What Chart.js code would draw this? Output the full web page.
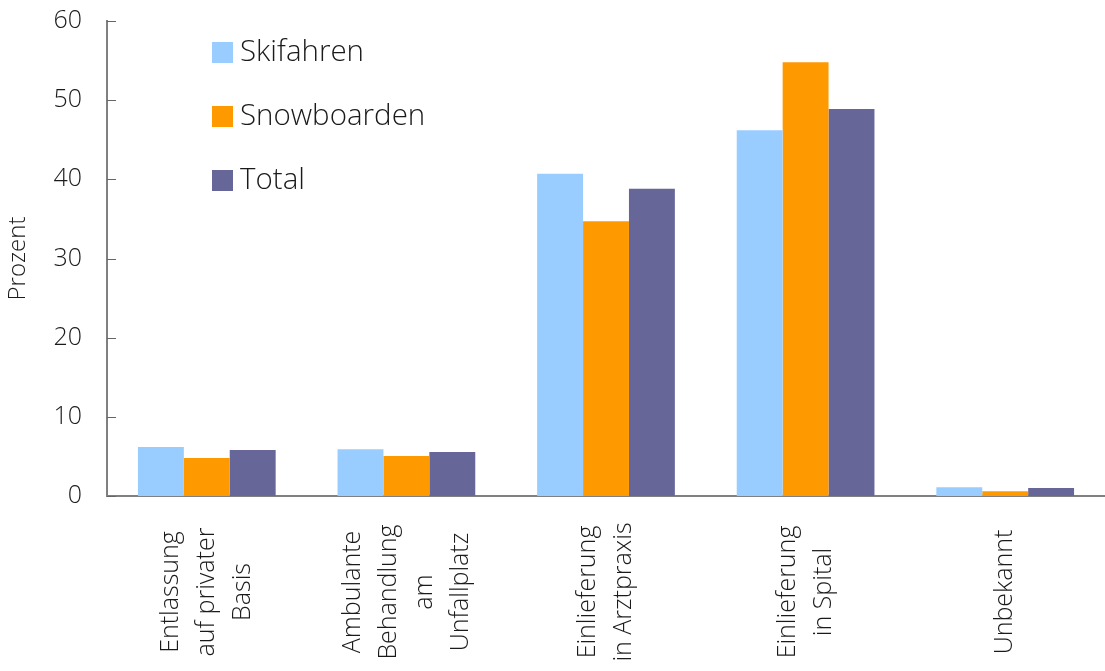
<!DOCTYPE html>
<html>
<head>
<meta charset="utf-8">
<script src="https://cdn.jsdelivr.net/npm/chart.js@4"></script>
<style>
  html, body { margin: 0; padding: 0; background: #fff; }
  #wrap { width: 1105px; height: 671px; }
</style>
</head>
<body>
<div id="wrap"><canvas id="chart"></canvas></div>
<script>
'use strict'
const categories = [
  ['Entlassung', 'auf privater', 'Basis'],
  ['Ambulante', 'Behandlung', 'am', 'Unfallplatz'],
  ['Einlieferung', 'in Arztpraxis'],
  ['Einlieferung', 'in Spital'],
  ['Unbekannt'],
];
const skifahren = [6.2, 5.9, 40.7, 46.2, 1.1];
const snowboarden = [4.8, 5.05, 34.7, 54.8, 0.6];
const total = [5.8, 5.55, 38.8, 48.9, 1.0];
const yTicks = [0, 10, 20, 30, 40, 50, 60];

const FONT = '"Open Sans", "Noto Sans", sans-serif';

// legend inside the plot, drawn from the datasets
const legendPlugin = {
  id: 'innerLegend',
  afterDraw(chart) {
    const ctx = chart.ctx;
    ctx.save();
    ctx.font = '300 29.5px ' + FONT;
    ctx.textBaseline = 'middle';
    ctx.textAlign = 'left';
    chart.data.datasets.forEach((ds, i) => {
      const y = 42 + i * 64;
      ctx.fillStyle = ds.backgroundColor;
      ctx.fillRect(212, y, 21, 21);
      ctx.fillStyle = '#1a1a1a';
      ctx.fillText(ds.label, 240, y + 11);
    });
    ctx.restore();
  }
};

// centred, rotated category labels and inner y tick marks
const axisPlugin = {
  id: 'axisExtras',
  afterDraw(chart) {
    const ctx = chart.ctx;
    const x = chart.scales.x;
    const y = chart.scales.y;
    ctx.save();
    ctx.font = '300 25px ' + FONT;
    ctx.fillStyle = '#1a1a1a';
    ctx.textAlign = 'center';
    ctx.textBaseline = 'middle';
    categories.forEach((lines, i) => {
      const px = x.getPixelForTick(i);
      const n = lines.length;
      ctx.save();
      ctx.translate(px, 592);
      ctx.rotate(-Math.PI / 2);
      lines.forEach((t, j) => {
        ctx.fillText(t, 0, (j - (n - 1) / 2) * 36);
      });
      ctx.restore();
    });
    ctx.strokeStyle = '#666';
    ctx.lineWidth = 1;
    yTicks.forEach(v => {
      const py = Math.round(y.getPixelForValue(v)) + 0.5;
      ctx.beginPath();
      ctx.moveTo(x.left, py);
      ctx.lineTo(x.left + 9, py);
      ctx.stroke();
    });
    ctx.restore();
  }
};

const ctx = document.getElementById('chart').getContext('2d');
new Chart(ctx, {
  type: 'bar',
  data: {
    labels: categories,
    datasets: [
      { label: 'Skifahren', data: skifahren, backgroundColor: '#99ccff' },
      { label: 'Snowboarden', data: snowboarden, backgroundColor: '#ff9900' },
      { label: 'Total', data: total, backgroundColor: '#666699' },
    ],
  },
  options: {
    responsive: true,
    maintainAspectRatio: false,
    animation: false,
    datasets: {
      bar: { categoryPercentage: 0.69, barPercentage: 1.0 },
    },
    layout: { padding: { top: 21, right: 0, left: 0, bottom: 0 } },
    plugins: {
      legend: { display: false },
      tooltip: { enabled: false },
    },
    scales: {
      x: {
        grid: { display: false },
        border: { display: true, color: '#808080', width: 2 },
        ticks: { display: false },
        afterFit(scale) {
          scale.height = 175;
          scale.paddingLeft = 0;
          scale.paddingRight = 0;
        },
      },
      y: {
        min: 0,
        max: 60,
        afterBuildTicks(scale) { scale.ticks = yTicks.map(v => ({ value: v })); },
        grid: { display: false, drawTicks: false },
        border: { display: true, color: '#808080', width: 2 },
        ticks: {
          padding: 25,
          color: '#1a1a1a',
          font: { family: FONT, size: 25, weight: '300' },
        },
        title: {
          display: true,
          text: 'Prozent',
          color: '#1a1a1a',
          font: { family: FONT, size: 24, weight: '300' },
          padding: { top: 4, bottom: 0 },
        },
        afterFit(scale) {
          scale.width = 107;
          scale.paddingTop = 0;
          scale.paddingBottom = 0;
        },
      },
    },
  },
  plugins: [legendPlugin, axisPlugin],
});
</script>
</body>
</html>
